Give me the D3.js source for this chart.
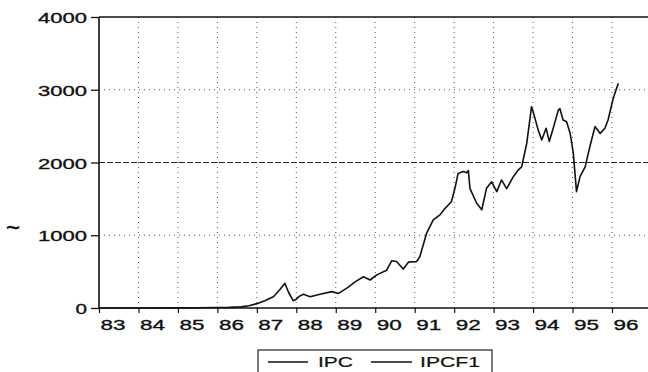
<!DOCTYPE html>
<html>
<head>
<meta charset="utf-8">
<script src="https://cdn.jsdelivr.net/npm/d3@7"></script>
<style>
  html, body { margin: 0; padding: 0; background: #fff; }
  svg { display: block; }
  text { font-family: "Liberation Sans", Arial, sans-serif; fill: #111; }
</style>
</head>
<body>
<svg id="chart" width="648" height="372"></svg>
<script>
// Period (decimal year) and IPC index value
const period = [
  1983.0, 1984.0, 1985.0, 1985.5, 1986.0, 1986.3, 1986.6, 1986.8,
  1987.0, 1987.2, 1987.42, 1987.58, 1987.71, 1987.8, 1987.92, 1988.0,
  1988.07, 1988.18, 1988.35, 1988.6, 1988.9, 1989.07, 1989.3, 1989.49,
  1989.7, 1989.87, 1990.04, 1990.29, 1990.42, 1990.54, 1990.71, 1990.84,
  1991.05, 1991.13, 1991.3, 1991.47, 1991.64, 1991.77, 1991.93, 1992.02,
  1992.1, 1992.23, 1992.32, 1992.36, 1992.4, 1992.57, 1992.7, 1992.82,
  1992.95, 1993.08, 1993.2, 1993.33, 1993.5, 1993.62, 1993.71, 1993.84,
  1993.96, 1994.0, 1994.13, 1994.22, 1994.33, 1994.41, 1994.51, 1994.64,
  1994.68, 1994.76, 1994.85, 1994.94, 1995.02, 1995.1, 1995.19, 1995.32,
  1995.44, 1995.57, 1995.7, 1995.82, 1995.9, 1996.03, 1996.16
];
const ipc = [
  0, 0, 2, 4, 6, 8, 15, 30,
  60, 100, 155, 250, 340, 220, 100, 120,
  160, 190, 155, 190, 225, 200, 280, 360,
  430, 385, 455, 520, 650, 640, 535, 630,
  640, 705, 1025, 1210, 1280, 1370, 1460, 1645,
  1850, 1875, 1860, 1890, 1645, 1440, 1350, 1645,
  1735, 1600, 1760, 1640, 1805, 1895, 1940, 2265,
  2765, 2700, 2445, 2310, 2470, 2290, 2470, 2720,
  2740, 2585, 2560, 2400, 2125, 1600, 1805, 1940,
  2220, 2495, 2400, 2470, 2585, 2880, 3090
];
const yearTicks = [1983, 1984, 1985, 1986, 1987, 1988, 1989, 1990, 1991, 1992, 1993, 1994, 1995, 1996];
const valueTicks = [0, 1000, 2000, 3000, 4000];
const seriesNames = ["IPC", "IPCF1"];

const W = 648, H = 372;
const plotLeft = 99, plotTop = 17, plotBottom = 308;
const svg = d3.select("#chart");

const x = d3.scaleLinear().domain([1983, 1996]).range([plotLeft, 612]);
const y = d3.scaleLinear().domain([0, 4000]).range([plotBottom, plotTop]);

// Wide lettering: stretch each label to a fixed advance per character
const stretch = (sel, perChar) => sel.each(function () {
  const n = this.textContent.length;
  d3.select(this).attr("textLength", n * perChar - 1).attr("lengthAdjust", "spacingAndGlyphs");
});

// Grid: dotted year lines, dotted value lines (2000 drawn heavier)
svg.append("g").selectAll("line")
  .data(yearTicks.slice(1))
  .join("line")
  .attr("x1", d => x(d)).attr("x2", d => x(d))
  .attr("y1", plotTop).attr("y2", plotBottom)
  .attr("stroke", "#555").attr("stroke-width", 1)
  .attr("stroke-dasharray", "1,4");

svg.append("g").selectAll("line")
  .data(valueTicks.filter(v => v > 0 && v < 4000))
  .join("line")
  .attr("x1", plotLeft).attr("x2", W)
  .attr("y1", d => y(d)).attr("y2", d => y(d))
  .attr("stroke", d => d === 2000 ? "#222" : "#555")
  .attr("stroke-width", d => d === 2000 ? 1.2 : 1)
  .attr("stroke-dasharray", d => d === 2000 ? "6,2" : "1,4");

// Frame: top, left and bottom rules
svg.append("line").attr("x1", plotLeft).attr("x2", W).attr("y1", y(4000)).attr("y2", y(4000))
  .attr("stroke", "#111").attr("stroke-width", 1.4);
svg.append("line").attr("x1", plotLeft).attr("x2", plotLeft).attr("y1", plotTop).attr("y2", plotBottom)
  .attr("stroke", "#111").attr("stroke-width", 1.6);
svg.append("line").attr("x1", plotLeft).attr("x2", W).attr("y1", plotBottom).attr("y2", plotBottom)
  .attr("stroke", "#111").attr("stroke-width", 1.6);

// Y axis
const yAxis = d3.axisLeft(y).tickValues(valueTicks).tickSize(8).tickPadding(4)
  .tickFormat(d3.format("d"));
const gy = svg.append("g").attr("transform", `translate(${plotLeft},0)`).call(yAxis);
gy.select(".domain").remove();
gy.selectAll("line").attr("stroke", "#111").attr("stroke-width", 1.3);
gy.selectAll("text").attr("font-size", 15.5)
  .attr("font-family", "'Liberation Sans', Arial, sans-serif").attr("fill", "#111")
  .attr("stroke", "#111").attr("stroke-width", 0.35)
  .attr("dy", "0.36em").attr("x", -12);
stretch(gy.selectAll("text"), 12.5);

// X axis: labels start at the year tick
const xAxis = d3.axisBottom(x).tickValues(yearTicks).tickSize(5).tickPadding(6)
  .tickFormat(d => d3.format("02d")(d % 100));
const gx = svg.append("g").attr("transform", `translate(0,${plotBottom})`).call(xAxis);
gx.select(".domain").remove();
gx.selectAll("line").attr("stroke", "#111").attr("stroke-width", 1.2);
gx.selectAll("text").attr("font-size", 15.5)
  .attr("font-family", "'Liberation Sans', Arial, sans-serif").attr("fill", "#111")
  .attr("stroke", "#111").attr("stroke-width", 0.35)
  .attr("text-anchor", "start").attr("x", 1).attr("dy", "0.72em");
stretch(gx.selectAll("text"), 13);

// Vertical axis title glyph
svg.append("text").attr("x", 6).attr("y", 236).attr("font-size", 26)
  .attr("stroke", "#111").attr("stroke-width", 0.4)
  .attr("textLength", 14).attr("lengthAdjust", "spacingAndGlyphs").text("~");

// IPC series
const pts = period.map((p, i) => [p, ipc[i]]);
svg.append("path")
  .datum(pts)
  .attr("fill", "none")
  .attr("stroke", "#111")
  .attr("stroke-width", 1.6)
  .attr("stroke-linejoin", "round")
  .attr("d", d3.line().x(d => x(d[0])).y(d => y(d[1])));

// Legend
const lg = svg.append("g");
lg.append("rect").attr("x", 258).attr("y", 350).attr("width", 234).attr("height", 30)
  .attr("fill", "#fff").attr("stroke", "#222").attr("stroke-width", 1.2);
const legendItems = [
  { name: seriesNames[0], x0: 268, x1: 308, tx: 318, w: 35 },
  { name: seriesNames[1], x0: 371, x1: 412, tx: 420, w: 60 }
];
legendItems.forEach(it => {
  lg.append("line").attr("x1", it.x0).attr("x2", it.x1).attr("y1", 362).attr("y2", 362)
    .attr("stroke", "#111").attr("stroke-width", 1.3);
  lg.append("text").attr("x", it.tx).attr("y", 367).attr("font-size", 14)
    .attr("stroke", "#111").attr("stroke-width", 0.2)
    .attr("textLength", it.w).attr("lengthAdjust", "spacingAndGlyphs").text(it.name);
});
</script>
</body>
</html>
